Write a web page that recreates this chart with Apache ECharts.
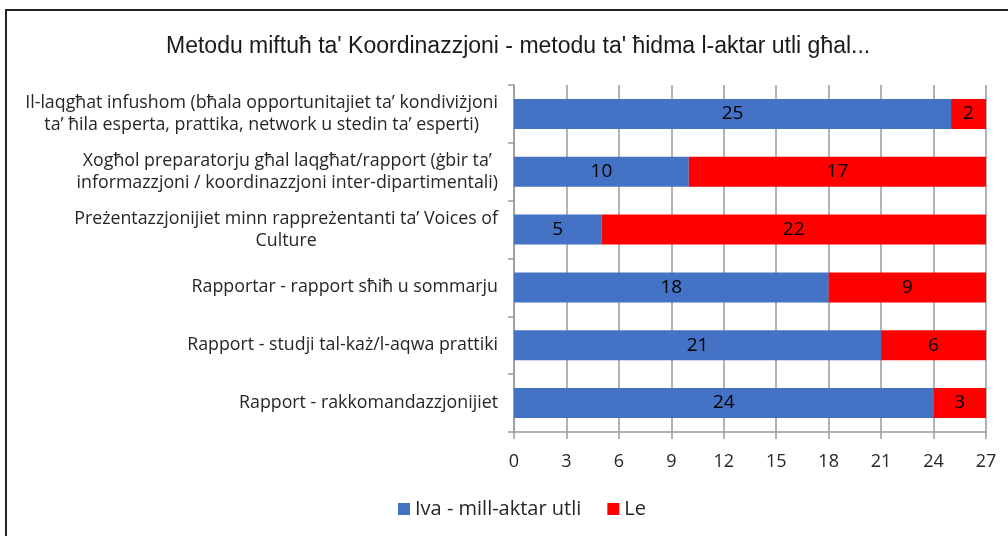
<!DOCTYPE html>
<html>
<head>
<meta charset="utf-8">
<script src="https://cdn.jsdelivr.net/npm/echarts@6/dist/echarts.min.js"></script>
<style>html,body{margin:0;padding:0;background:#fff;}#c{width:1008px;height:536px;}</style>
</head>
<body>
<div id="c"></div>
<script>
const categories = [
  "Il-laqgħat infushom (bħala opportunitajiet ta’ kondiviżjoni\nta’ ħila esperta, prattika, network u stedin ta’ esperti)",
  "Xogħol preparatorju għal laqgħat/rapport (ġbir ta’\ninformazzjoni / koordinazzjoni inter-dipartimentali)",
  "Preżentazzjonijiet minn rappreżentanti ta’ Voices of\nCulture",
  "Rapportar - rapport sħiħ u sommarju",
  "Rapport - studji tal-każ/l-aqwa prattiki",
  "Rapport - rakkomandazzjonijiet"
];
const ivaValues = [25, 10, 5, 18, 21, 24];
const leValues = [2, 17, 22, 9, 6, 3];
const seriesNames = ["Iva - mill-aktar utli", "Le"];
const titleText = "Metodu miftuħ ta' Koordinazzjoni - metodu ta' ħidma l-aktar utli għal...";

const font = "'Open Sans', 'DejaVu Sans', sans-serif";
const chart = echarts.init(document.getElementById('c'));
chart.setOption({
  animation: false,
  title: {
    text: titleText,
    left: 161,
    top: 30,
    textStyle: { fontFamily: "'Liberation Sans Narrow', 'Liberation Sans', sans-serif", fontSize: 23, fontWeight: 'normal', color: '#1a1a1a' }
  },
  graphic: [{
    type: 'polyline',
    shape: { points: [[1008, 10], [6, 10], [6, 536]] },
    style: { stroke: '#222', lineWidth: 2, fill: null },
    silent: true
  }],
  legend: {
    bottom: 12,
    left: 393,
    itemWidth: 12,
    itemHeight: 12,
    itemGap: 26,
    icon: 'rect',
    textStyle: { fontFamily: font, fontSize: 20, color: '#262626' },
    data: seriesNames
  },
  grid: { left: 514, right: 22, top: 85, bottom: 104, containLabel: false },
  xAxis: {
    type: 'value',
    min: 0, max: 27, interval: 3,
    axisLine: { show: true, lineStyle: { color: '#9a9a9a', width: 1.5 } },
    axisTick: { show: true, length: 7, lineStyle: { color: '#9a9a9a', width: 1.5 } },
    splitLine: { show: true, lineStyle: { color: '#9a9a9a', width: 1.5 } },
    axisLabel: { fontFamily: font, fontSize: 18, color: '#262626', margin: 21 }
  },
  yAxis: {
    type: 'category',
    inverse: true,
    data: categories,
    axisLine: { show: true, lineStyle: { color: '#9a9a9a', width: 1.5 } },
    axisTick: { show: true, length: 6, lineStyle: { color: '#9a9a9a', width: 1.5 } },
    axisLabel: {
      margin: 16,
      formatter: function (v) {
        return v.split('\n').map(function (l) { return '{c|' + l + '}'; }).join('\n');
      },
      rich: {
        c: { align: 'center', fontFamily: font, fontSize: 17.8, color: '#262626', lineHeight: 22 }
      }
    }
  },
  series: [
    {
      name: seriesNames[0], type: 'bar', stack: 's', barWidth: 30,
      data: ivaValues,
      itemStyle: { color: '#4472C4' },
      label: { show: true, position: 'inside', fontFamily: font, fontSize: 19, color: '#000' }
    },
    {
      name: seriesNames[1], type: 'bar', stack: 's', barWidth: 30,
      data: leValues,
      itemStyle: { color: '#FF0000' },
      label: { show: true, position: 'inside', fontFamily: font, fontSize: 19, color: '#000' }
    }
  ]
});
</script>
</body>
</html>
